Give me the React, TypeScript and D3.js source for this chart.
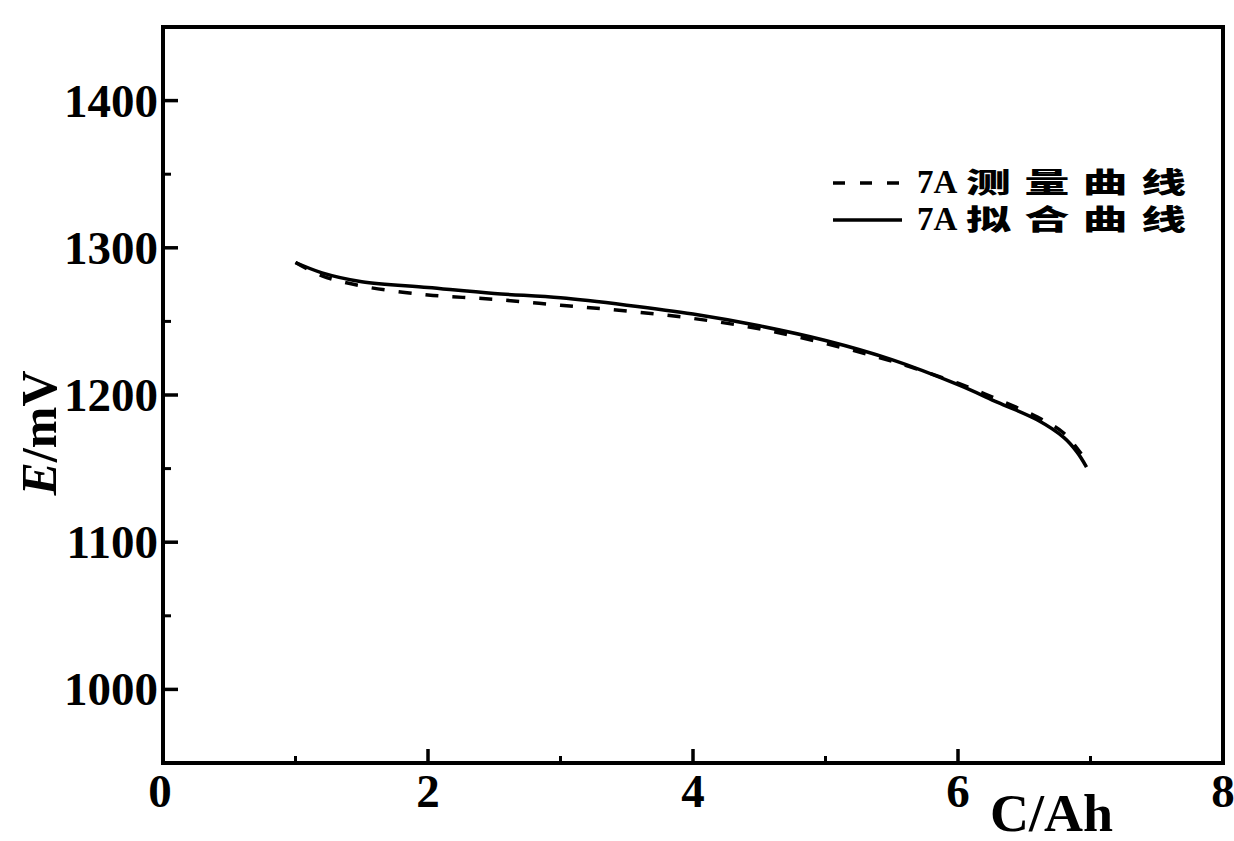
import * as d3 from "d3";

const W = 1234;
const H = 841;

// fitted curve (solid)
const fitC = [1.0, 1.2, 1.5, 2.0, 2.5, 3.0, 3.5, 4.0, 4.5, 5.0, 5.5, 6.0, 6.3, 6.6, 6.8, 6.9, 6.97];
const fitE = [1290, 1283, 1277, 1273, 1269, 1266, 1261, 1255, 1247, 1237, 1224, 1207, 1195, 1183, 1171, 1161, 1151];

// measured curve (dashed)
const measC = [1.0, 1.2, 1.5, 2.0, 2.5, 3.0, 3.5, 4.0, 4.5, 5.0, 5.5, 6.0, 6.3, 6.6, 6.8, 6.93];
const measE = [1290, 1281, 1274, 1268, 1265, 1261, 1257, 1252, 1245, 1235, 1223, 1208, 1197, 1185, 1174, 1160];

const xMajor = [2, 4, 6];
const xMinor = [1, 3, 5, 7];
const xLabels = [0, 2, 4, 6, 8];
const yMajor = [1000, 1100, 1200, 1300, 1400];
const yMinor = [1050, 1150, 1250, 1350];

const legendNames = ["测量曲线", "拟合曲线"];

const SERIF = "'Liberation Serif', 'DejaVu Serif', serif";
const CJK = "'Noto Sans CJK SC', sans-serif";

export default function App() {
    const x = d3.scaleLinear().domain([0, 8]).range([163, 1223]);
    const y = d3.scaleLinear().domain([950, 1450]).range([763, 27]);

    const line = d3
        .line<[number, number]>()
        .x((d) => x(d[0]))
        .y((d) => y(d[1]))
        .curve(d3.curveCatmullRom.alpha(0.5));

    const fitPts = fitC.map((c, i) => [c, fitE[i]] as [number, number]);
    const measPts = measC.map((c, i) => [c, measE[i]] as [number, number]);

    const [x0, x1] = x.range();
    const [yb, yt] = y.range();

    return (
        <svg width={W} height={H} style={{ position: "absolute", left: 0, top: 0, background: "#fff" }}>
            <rect x={0} y={0} width={W} height={H} fill="#fff" />

            {/* frame */}
            <rect x={x0} y={yt} width={x1 - x0} height={yb - yt} fill="none" stroke="#000" strokeWidth={4} />

            {/* y ticks */}
            {yMajor.map((v) => (
                <line key={`ym${v}`} x1={x0} x2={x0 + 15} y1={y(v)} y2={y(v)} stroke="#000" strokeWidth={3.5} />
            ))}
            {yMinor.map((v) => (
                <line key={`yn${v}`} x1={x0} x2={x0 + 8} y1={y(v)} y2={y(v)} stroke="#000" strokeWidth={3} />
            ))}
            {yMajor.map((v) => (
                <text
                    key={`yl${v}`}
                    x={x0 - 5}
                    y={y(v)}
                    dy="0.34em"
                    textAnchor="end"
                    fontFamily={SERIF}
                    fontWeight="bold"
                    fontSize={47}
                >
                    {v}
                </text>
            ))}

            {/* x ticks */}
            {xMajor.map((v) => (
                <line key={`xm${v}`} x1={x(v)} x2={x(v)} y1={yb} y2={yb - 14} stroke="#000" strokeWidth={3.5} />
            ))}
            {xMinor.map((v) => (
                <line key={`xn${v}`} x1={x(v)} x2={x(v)} y1={yb} y2={yb - 7} stroke="#000" strokeWidth={3} />
            ))}
            {xLabels.map((v) => (
                <text
                    key={`xl${v}`}
                    x={x(v) - (v === 0 ? 3 : 0)}
                    y={807}
                    textAnchor="middle"
                    fontFamily={SERIF}
                    fontWeight="bold"
                    fontSize={47}
                >
                    {v}
                </text>
            ))}

            {/* axis titles */}
            <text x={990} y={831} fontFamily={SERIF} fontWeight="bold" fontSize={52} textLength={123} lengthAdjust="spacingAndGlyphs">
                C/Ah
            </text>
            <text
                transform="translate(56,433) rotate(-90)"
                textAnchor="middle"
                fontFamily={SERIF}
                fontWeight="bold"
                fontSize={50}
            >
                <tspan fontStyle="italic">E</tspan>/mV
            </text>

            {/* curves */}
            <path d={line(measPts) ?? ""} fill="none" stroke="#000" strokeWidth={3.5} strokeDasharray="13 14" />
            <path d={line(fitPts) ?? ""} fill="none" stroke="#000" strokeWidth={3.5} />

            {/* legend */}
            {legendNames.map((name, i) => {
                const ly = 183 + i * 37;
                return (
                    <g key={name}>
                        <line
                            x1={833}
                            x2={902}
                            y1={ly}
                            y2={ly}
                            stroke="#000"
                            strokeWidth={3.5}
                            strokeDasharray={i === 0 ? "12 15" : undefined}
                        />
                        <text x={917} y={ly + 10} fontFamily={SERIF} fontWeight="bold" fontSize={33}>
                            7A
                        </text>
                        <g transform={`translate(966,${ly + 10}) scale(1.6,1)`}>
                            <text x={0} y={0} fontFamily={CJK} fontWeight={900} fontSize={28} letterSpacing={8.5}>
                                {name}
                            </text>
                        </g>
                    </g>
                );
            })}
        </svg>
    );
}
